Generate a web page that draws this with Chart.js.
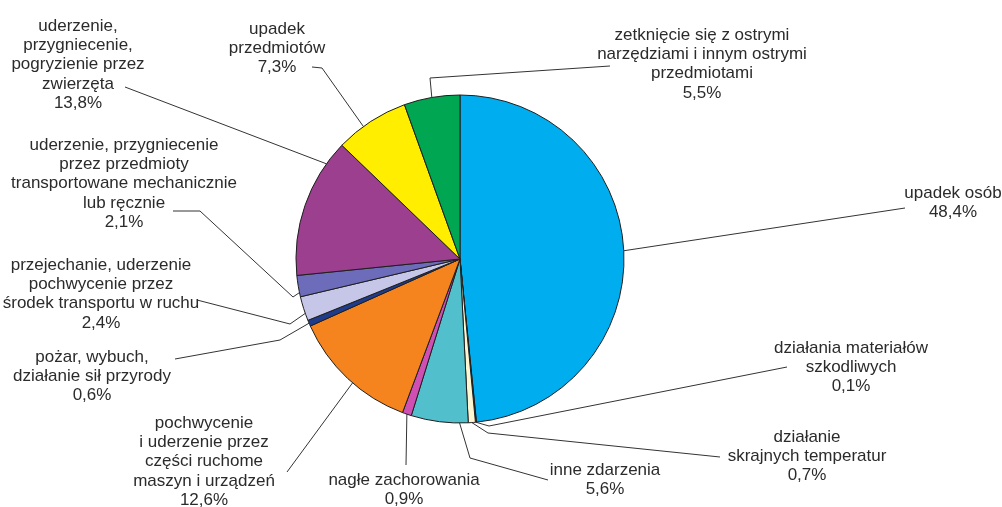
<!DOCTYPE html>
<html>
<head>
<meta charset="utf-8">
<script src="https://cdn.jsdelivr.net/npm/chart.js@4.4.1/dist/chart.umd.min.js"></script>
<style>
  body { margin: 0; background: #fff; }
  #box { width: 1002px; height: 507px; position: relative; }
</style>
</head>
<body>
<div id="box"><canvas id="wykres"></canvas></div>
<script>
// kategorie wypadkow (linie podpisu rozdzielone \n)
const kategorie = [
  "upadek osób",
  "działania materiałów\nszkodliwych",
  "działanie\nskrajnych temperatur",
  "inne zdarzenia",
  "nagłe zachorowania",
  "pochwycenie\ni uderzenie przez\nczęści ruchome\nmaszyn i urządzeń",
  "pożar, wybuch,\ndziałanie sił przyrody",
  "przejechanie, uderzenie\npochwycenie przez\nśrodek transportu w ruchu",
  "uderzenie, przygniecenie\nprzez przedmioty\ntransportowane mechanicznie\nlub ręcznie",
  "uderzenie,\nprzygniecenie,\npogryzienie przez\nzwierzęta",
  "upadek\nprzedmiotów",
  "zetknięcie się z ostrymi\nnarzędziami i innym ostrymi\nprzedmiotami"
];

// udzial procentowy
const udzialy = [48.4, 0.1, 0.7, 5.6, 0.9, 12.6, 0.6, 2.4, 2.1, 13.8, 7.3, 5.5];

const kolory = [
  "#00aeef", "#222222", "#fdf6d2", "#52c0cc", "#cf4fb2", "#f5841f",
  "#1f3c8c", "#c6c6e8", "#6c6cba", "#9c3f8e", "#ffee00", "#00a651"
];

// polozenie podpisow: srodek tekstu, y pierwszej linii, punkty linii odniesienia
// t = miejsce na luku wycinka (0..1) gdzie zaczyna sie linia
const podpisy = [
  { x: 953, y: 193, t: 0.5, linia: [[905, 208]] },
  { x: 851, y: 348, t: 0.5, linia: [[489, 426], [787, 367]] },
  { x: 807, y: 437, t: 0.5, linia: [[488, 433], [720, 457]] },
  { x: 605, y: 470, t: 0.15, linia: [[470, 458], [548, 480]] },
  { x: 404, y: 480, t: 0.5, linia: [[406, 465]] },
  { x: 204, y: 423, t: 0.45, linia: [[287, 472]] },
  { x: 92, y: 357, t: 0.5, linia: [[280, 340], [175, 359]] },
  { x: 101, y: 265, t: 0.3, linia: [[290, 324], [197, 300]] },
  { x: 124, y: 145, t: 0.2, linia: [[293, 297], [200, 211], [173, 211]] },
  { x: 78, y: 26, t: 0.83, linia: [[125, 87]] },
  { x: 277, y: 29, t: 0.38, linia: [[322, 68], [312, 67]] },
  { x: 702, y: 35, t: 0.5, linia: [[430, 78], [610, 66]] }
];

const wysLinii = 19.3;

const podpisyPlugin = {
  id: "podpisy",
  afterDraw(chart) {
    const ctx = chart.ctx;
    const meta = chart.getDatasetMeta(0);
    ctx.save();
    ctx.strokeStyle = "#333";
    ctx.lineWidth = 1;
    ctx.fillStyle = "#2b2b2b";
    ctx.font = "17px 'Liberation Sans', Arial, sans-serif";
    ctx.textAlign = "center";
    ctx.textBaseline = "middle";
    meta.data.forEach((arc, i) => {
      const p = podpisy[i];
      const { x, y, startAngle, endAngle, outerRadius } =
        arc.getProps(["x", "y", "startAngle", "endAngle", "outerRadius"], true);
      const a = startAngle + p.t * (endAngle - startAngle);
      ctx.beginPath();
      ctx.moveTo(x + Math.cos(a) * outerRadius, y + Math.sin(a) * outerRadius);
      p.linia.forEach((pt) => ctx.lineTo(pt[0], pt[1]));
      ctx.stroke();

      const linie = kategorie[i].split("\n");
      linie.push(udzialy[i].toFixed(1).replace(".", ",") + "%");
      linie.forEach((txt, k) => {
        ctx.fillText(txt, p.x, p.y + k * wysLinii);
      });
    });
    ctx.restore();
  }
};

new Chart(document.getElementById("wykres"), {
  type: "pie",
  data: {
    labels: kategorie,
    datasets: [
      {
        data: udzialy,
        backgroundColor: kolory,
        borderColor: "#1e1e1e",
        borderWidth: 1,
      },
    ],
  },
  options: {
    responsive: true,
    maintainAspectRatio: false,
    animation: false,
    radius: 164,
    layout: {
      padding: { top: 95, bottom: 84, left: 200, right: 282 },
    },
    plugins: {
      legend: { display: false },
      tooltip: { enabled: false },
    },
  },
  plugins: [podpisyPlugin],
});
</script>
</body>
</html>
